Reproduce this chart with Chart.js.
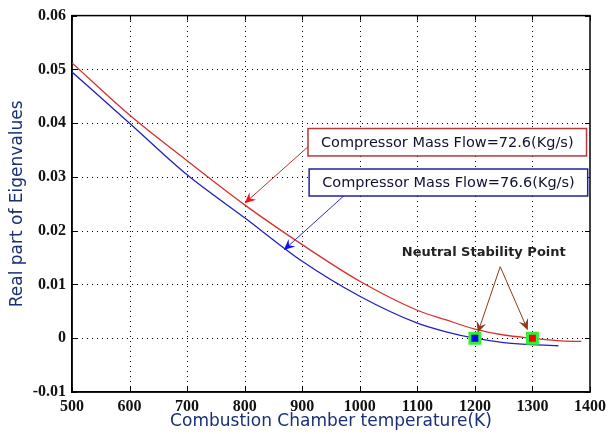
<!DOCTYPE html>
<html>
<head>
<meta charset="utf-8">
<script src="https://cdn.jsdelivr.net/npm/chart.js@4.4.1/dist/chart.umd.min.js"></script>
<style>
  html, body { margin: 0; padding: 0; background: #ffffff; }
  #wrap { width: 611px; height: 434px; position: relative; }
</style>
</head>
<body>
<div id="wrap"><canvas id="eigenChart"></canvas></div>
<script>
// temperatures (K) and real part of eigenvalues
const redTemps = [500, 600, 700, 800, 900, 1000, 1100, 1150, 1200, 1250, 1300, 1350, 1385];
const redEigen = [0.0512, 0.0415, 0.0330, 0.0248, 0.0174, 0.0106, 0.0052, 0.0034, 0.0017, 0.0006, 0.0, -0.0005, -0.0006];
const blueTemps = [500, 600, 700, 800, 900, 1000, 1100, 1150, 1200, 1250, 1300, 1345];
const blueEigen = [0.0495, 0.0400, 0.0304, 0.0224, 0.0143, 0.0078, 0.0028, 0.0012, 0.0, -0.0008, -0.0012, -0.0014];
const stablePoints = [{ x: 1200, y: 0 }, { x: 1300, y: 0 }];
const xTicks = [500, 600, 700, 800, 900, 1000, 1100, 1200, 1300, 1400];
const yTicks = [-0.01, 0, 0.01, 0.02, 0.03, 0.04, 0.05, 0.06];

const toPoints = (xs, ys) => xs.map((x, i) => ({ x: x, y: ys[i] }));

function arrow(ctx, x1, y1, x2, y2, lineColor, headColor) {
    const ang = Math.atan2(y2 - y1, x2 - x1);
    const len = 11, wid = 5;
    ctx.strokeStyle = lineColor;
    ctx.lineWidth = 1;
    ctx.beginPath();
    ctx.moveTo(x1, y1);
    ctx.lineTo(x2 - Math.cos(ang) * 4, y2 - Math.sin(ang) * 4);
    ctx.stroke();
    const bx = x2 - Math.cos(ang) * len, by = y2 - Math.sin(ang) * len;
    const mx = x2 - Math.cos(ang) * (len - 4), my = y2 - Math.sin(ang) * (len - 4);
    ctx.fillStyle = headColor;
    ctx.beginPath();
    ctx.moveTo(x2, y2);
    ctx.lineTo(bx + Math.sin(ang) * wid, by - Math.cos(ang) * wid);
    ctx.lineTo(mx, my);
    ctx.lineTo(bx - Math.sin(ang) * wid, by + Math.cos(ang) * wid);
    ctx.closePath();
    ctx.fill();
}

// dotted grid, frame, inner ticks and annotations (matlab style)
const decorations = {
    id: "decorations",
    beforeDatasetsDraw(chart) {
        const { ctx, chartArea: a, scales } = chart;
        ctx.save();
        ctx.strokeStyle = "#000000";
        ctx.lineWidth = 1;
        ctx.setLineDash([1, 4]);
        ctx.beginPath();
        xTicks.slice(1, -1).forEach(v => {
            const px = Math.round(scales.x.getPixelForValue(v)) + 0.5;
            ctx.moveTo(px, a.bottom); ctx.lineTo(px, a.top);
        });
        yTicks.slice(1, -1).forEach(v => {
            const py = Math.round(scales.y.getPixelForValue(v)) + 0.5;
            ctx.moveTo(a.left, py); ctx.lineTo(a.right, py);
        });
        ctx.stroke();
        ctx.setLineDash([]);
        ctx.beginPath();
        xTicks.forEach(v => {
            const px = Math.round(scales.x.getPixelForValue(v)) + 0.5;
            ctx.moveTo(px, a.bottom); ctx.lineTo(px, a.bottom - 5);
            ctx.moveTo(px, a.top); ctx.lineTo(px, a.top + 5);
        });
        yTicks.forEach(v => {
            const py = Math.round(scales.y.getPixelForValue(v)) + 0.5;
            ctx.moveTo(a.left, py); ctx.lineTo(a.left + 5, py);
            ctx.moveTo(a.right, py); ctx.lineTo(a.right - 5, py);
        });
        ctx.stroke();
        ctx.lineWidth = 1.5;
        ctx.strokeRect(a.left, a.top, a.right - a.left, a.bottom - a.top);
        ctx.restore();
    },
    afterDatasetsDraw(chart) {
        const { ctx, scales } = chart;
        const px = v => scales.x.getPixelForValue(v);
        const py = v => scales.y.getPixelForValue(v);
        ctx.save();

        // arrows to the curves
        arrow(ctx, px(910), py(0.0356), px(800), py(0.0251), "#c03030", "#ff1010");
        arrow(ctx, px(972), py(0.02645), px(868), py(0.0164), "#3030b0", "#1010ff");

        // label boxes
        const boxes = [
            { x0: 910, x1: 1394, y0: 0.0390, y1: 0.0339, color: "#b83838", text: "Compressor Mass Flow=72.6(Kg/s)" },
            { x0: 912, x1: 1396, y0: 0.03147, y1: 0.02645, color: "#2020a0", text: "Compressor Mass Flow=76.6(Kg/s)" },
        ];
        ctx.font = "14.5px 'DejaVu Sans'";
        ctx.textBaseline = "middle";
        ctx.textAlign = "center";
        boxes.forEach(b => {
            const l = px(b.x0), r = px(b.x1), t = py(b.y0), bt = py(b.y1);
            ctx.fillStyle = "#ffffff";
            ctx.fillRect(l, t, r - l, bt - t);
            ctx.strokeStyle = b.color;
            ctx.lineWidth = 1.5;
            ctx.strokeRect(l, t, r - l, bt - t);
            ctx.fillStyle = "#111133";
            ctx.fillText(b.text, (l + r) / 2, (t + bt) / 2 + 1);
        });

        // neutral stability label
        ctx.font = "bold 13px 'DejaVu Sans'";
        ctx.textAlign = "left";
        ctx.fillStyle = "#222222";
        ctx.fillText("Neutral Stability Point", px(1073), py(0.01585));
        arrow(ctx, px(1244), py(0.0133), px(1205), py(0.0010), "#8b3a1a", "#8b3a1a");
        arrow(ctx, px(1244), py(0.0133), px(1292), py(0.0015), "#8b3a1a", "#8b3a1a");
        ctx.restore();
    },
};

const ctx = document.getElementById("eigenChart").getContext("2d");
const eigenChart = new Chart(ctx, {
    type: "line",
    data: {
        datasets: [
            {
                label: "Neutral Stability Point",
                type: "scatter",
                data: stablePoints,
                pointStyle: "rect",
                pointRadius: 7,
                pointBackgroundColor: ["#0000ff", "#ff0000"],
                pointBorderColor: "#33ee33",
                pointBorderWidth: 3,
                showLine: false,
                order: 0,
            },
            {
                label: "Compressor Mass Flow=72.6(Kg/s)",
                data: toPoints(redTemps, redEigen),
                borderColor: "#d83030",
                borderWidth: 1.3,
                pointRadius: 0,
                cubicInterpolationMode: "monotone",
                fill: false,
                order: 1,
            },
            {
                label: "Compressor Mass Flow=76.6(Kg/s)",
                data: toPoints(blueTemps, blueEigen),
                borderColor: "#2020c0",
                borderWidth: 1.3,
                pointRadius: 0,
                cubicInterpolationMode: "monotone",
                fill: false,
                order: 1,
            },
        ],
    },
    options: {
        responsive: true,
        maintainAspectRatio: false,
        animation: false,
        layout: { padding: { top: 15, right: 19, left: 0, bottom: 0 } },
        scales: {
            x: {
                type: "linear",
                min: 500,
                max: 1400,
                afterFit: function (scale) { scale.height = 42; },
                afterBuildTicks: function (scale) { scale.ticks = xTicks.map(v => ({ value: v })); },
                grid: { display: false, drawTicks: false, tickLength: 0 },
                border: { display: true, color: "#000000", width: 1.5 },
                ticks: {
                    color: "#111111",
                    padding: 5,
                    font: { family: "'Liberation Serif'", weight: "bold", size: 16 },
                    callback: function (value) { return String(value); },
                },
                title: {
                    display: true,
                    text: "Combustion Chamber temperature(K)",
                    color: "#1a2f78",
                    font: { family: "'DejaVu Sans'", size: 17 },
                    padding: { top: 0, bottom: 2 },
                },
            },
            y: {
                type: "linear",
                min: -0.01,
                max: 0.06,
                afterFit: function (scale) { scale.width = 72; },
                afterBuildTicks: function (scale) { scale.ticks = yTicks.map(v => ({ value: v })); },
                grid: { display: false, drawTicks: false, tickLength: 0 },
                border: { display: true, color: "#000000", width: 1.5 },
                ticks: {
                    color: "#111111",
                    padding: 6,
                    font: { family: "'Liberation Serif'", weight: "bold", size: 16 },
                    callback: function (value) {
                        return value === 0 ? "0" : value.toFixed(2);
                    },
                },
                title: {
                    display: true,
                    text: "Real part of Eigenvalues",
                    color: "#1a2f78",
                    font: { family: "'DejaVu Sans'", size: 17 },
                    padding: { top: 7, bottom: 0 },
                },
            },
        },
        plugins: {
            legend: { display: false },
            tooltip: { enabled: false },
        },
    },
    plugins: [decorations],
});
</script>
</body>
</html>
